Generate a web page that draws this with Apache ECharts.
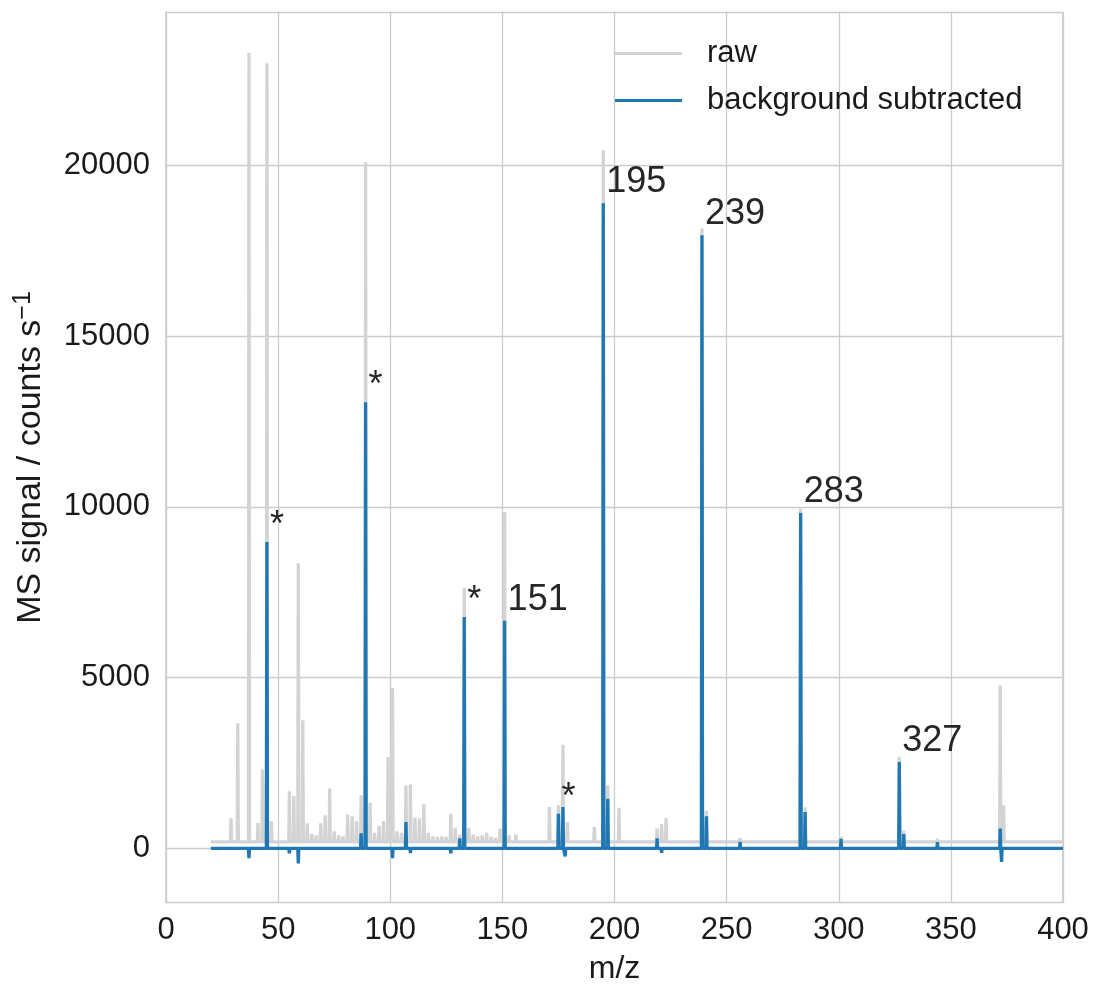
<!DOCTYPE html>
<html>
<head>
<meta charset="utf-8">
<script src="https://cdn.jsdelivr.net/npm/echarts@6/dist/echarts.min.js"></script>
<style>
  html, body { margin: 0; padding: 0; background: #ffffff; }
  #chart { width: 1093px; height: 987px; }
</style>
</head>
<body>
<div id="chart"></div>
<script>
// Axis ticks
const X_TICKS = [0, 50, 100, 150, 200, 250, 300, 350, 400];
const Y_TICKS = [0, 5000, 10000, 15000, 20000];

// Scanned m/z range and the level of the raw signal between peaks
const MZ_START = 20;
const MZ_END = 400;
const RAW_BASELINE = 190;
const SUB_BASELINE = 0;

// Raw spectrum: [m/z, counts s^-1]
const rawPeaks = [
  [29, 880], [32, 3660], [37, 23290], [41, 740], [43, 2310], [45, 22990], [47, 800],
  [55, 1670], [57, 1530], [59, 8350], [61, 3750], [63, 730], [65, 420], [67, 380],
  [69, 730], [71, 970], [73, 1750], [75, 500], [77, 380], [79, 350], [81, 990],
  [83, 940], [85, 800], [87, 1550], [89, 20090], [91, 1330], [93, 450], [95, 650],
  [97, 800], [99, 2670], [101, 4700], [103, 500], [105, 450], [107, 1840], [109, 1870],
  [111, 900], [113, 870], [115, 1290], [117, 450], [119, 350], [121, 330], [123, 350],
  [125, 330], [127, 1010], [129, 600], [131, 400], [133, 7630], [135, 600], [137, 400],
  [139, 350], [141, 380], [143, 450], [145, 330], [147, 300], [149, 575], [151, 9850],
  [153, 380], [156, 400], [171, 1210], [175, 1260], [177, 3030], [179, 770], [191, 625],
  [195, 20440], [197, 1845], [202, 1190], [219, 575], [221, 710], [223, 880],
  [239, 18150], [241, 1100], [256, 300], [283, 9950], [285, 1200], [301, 330],
  [327, 2670], [329, 520], [344, 280], [372, 4770], [373.5, 1260]
];

// Background-subtracted spectrum: [m/z, counts s^-1]
const subtractedPeaks = [
  [37, -290], [45, 8970], [55, -150], [59, -440], [87, 440], [89, 13060], [101, -290],
  [107, 770], [109, -140], [127, -150], [131, 290], [133, 6770], [151, 6660],
  [175, 1010], [177, 1210], [178, -235], [195, 18890], [197, 1450], [219, 290],
  [221, -130], [239, 17950], [241, 940], [256, 190], [283, 9820], [285, 1060],
  [301, 280], [327, 2530], [329, 420], [344, 180], [372, 575], [372.6, -400]
];

// Peaks tagged with their m/z, and peaks marked with an asterisk
const labelledMz = [151, 195, 239, 283, 327];
const starredMz = [45, 89, 133, 175];

// Each peak is a narrow spike rising from the baseline
function spectrum(peaks, base) {
  const pts = [[MZ_START, base]];
  peaks.slice().sort((a, b) => a[0] - b[0]).forEach(([mz, h]) => {
    pts.push([mz - 0.25, base], [mz, h], [mz + 0.25, base]);
  });
  pts.push([MZ_END, base]);
  return pts;
}

function heightAt(mz) {
  const p = subtractedPeaks.find(d => d[0] === mz);
  return p ? p[1] : 0;
}

const FONT = "'Liberation Sans', Arial, sans-serif";
const TEXT = '#1a1a1a';
const GRID = '#cccccc';

const annotationLabel = {
  show: true,
  position: [0, 0],
  align: 'left', verticalAlign: 'bottom',
  formatter: p => p.data[2],
  fontSize: 36, color: '#262626', fontFamily: FONT
};

const chart = echarts.init(document.getElementById('chart'), null, { renderer: 'canvas' });

chart.setOption({
  animation: false,
  backgroundColor: '#ffffff',
  grid: {
    left: 166, right: 30, top: 12.5, bottom: 84.5,
    outerBoundsMode: 'none',
    show: true, borderColor: GRID, borderWidth: 1.6, backgroundColor: 'transparent'
  },
  legend: {
    orient: 'vertical',
    left: 610, top: 33,
    itemWidth: 67, itemHeight: 3, itemGap: 16,
    data: [
      { name: 'raw', icon: 'rect' },
      { name: 'background subtracted', icon: 'rect' }
    ],
    textStyle: { fontSize: 31, color: TEXT, fontFamily: FONT, padding: [0, 0, 0, 20] }
  },
  xAxis: {
    type: 'value',
    min: X_TICKS[0], max: X_TICKS[X_TICKS.length - 1], interval: 50,
    name: 'm/z', nameLocation: 'middle', nameGap: 51,
    nameTextStyle: { fontSize: 32, color: TEXT, fontFamily: FONT },
    axisLine: { show: false },
    axisTick: { show: false },
    axisLabel: { fontSize: 31, color: TEXT, fontFamily: FONT, margin: 12 },
    splitLine: { show: true, lineStyle: { color: GRID, width: 1.3 } }
  },
  yAxis: {
    type: 'value',
    min: -1587, max: 24474,
    name: '{a|MS signal / counts s}{b|−1}',
    nameLocation: 'middle', nameGap: 116,
    nameTextStyle: {
      fontSize: 34, color: TEXT, fontFamily: FONT,
      rich: {
        a: { fontSize: 34, color: TEXT, fontFamily: FONT },
        b: { fontSize: 25, color: TEXT, fontFamily: FONT, verticalAlign: 'top', padding: [0, 0, 14, 0] }
      }
    },
    axisLine: { show: false },
    axisTick: { show: false, customValues: Y_TICKS },
    axisLabel: {
      fontSize: 31, color: TEXT, fontFamily: FONT, margin: 16,
      customValues: Y_TICKS, formatter: v => String(v)
    },
    splitLine: { show: true, lineStyle: { color: GRID, width: 1.3 } }
  },
  series: [
    {
      name: 'raw',
      type: 'line',
      data: spectrum(rawPeaks, RAW_BASELINE),
      symbol: 'none',
      color: '#d3d3d3',
      lineStyle: { color: '#d3d3d3', width: 3.3 },
      z: 2
    },
    {
      name: 'background subtracted',
      type: 'line',
      data: spectrum(subtractedPeaks, SUB_BASELINE),
      symbol: 'none',
      color: '#1f77b4',
      lineStyle: { color: '#1f77b4', width: 3.3 },
      z: 3
    },
    {
      name: 'peak labels',
      type: 'scatter',
      symbolSize: 0,
      silent: true,
      z: 5,
      itemStyle: { opacity: 1 },
      data: labelledMz.map(mz => [mz, heightAt(mz), String(mz)]),
      label: Object.assign({}, annotationLabel, { offset: [3, -3] })
    },
    {
      name: 'starred peaks',
      type: 'scatter',
      symbolSize: 0,
      silent: true,
      z: 5,
      itemStyle: { opacity: 1 },
      data: starredMz.map(mz => [mz, heightAt(mz), '*']),
      label: Object.assign({}, annotationLabel, { offset: [3, 2] })
    }
  ]
});
</script>
</body>
</html>
